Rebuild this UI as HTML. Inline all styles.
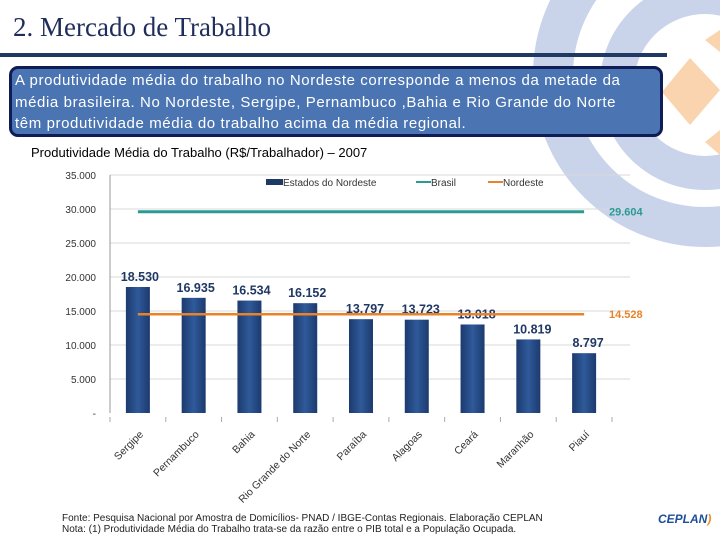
<!DOCTYPE html>
<html><head><meta charset="utf-8">
<style>
body{margin:0;width:720px;height:540px;overflow:hidden;background:#fff;position:relative;font-family:"Liberation Sans",sans-serif}
</style></head><body>
<svg width="720" height="540" style="position:absolute;left:0;top:0">
  <circle cx="705" cy="75" r="152" fill="none" stroke="#c9d3ea" stroke-width="40"/>
  <circle cx="705" cy="85" r="88" fill="none" stroke="#c9d3ea" stroke-width="34"/>
  <path d="M690,58 L720,90 L690,125 L662,92 Z" fill="#f9d4ae"/>
  <path d="M720,30 L705,40 L720,52 Z" fill="#f9d4ae"/>
  <path d="M720,130 L705,142 L720,155 Z" fill="#f9d4ae"/>
</svg>
<div style="position:absolute;left:13px;top:12px;font-family:'Liberation Serif',serif;font-size:27px;color:#1f2d5a">2. Mercado de Trabalho</div>
<div style="position:absolute;left:0;top:53px;width:667px;height:4px;background:#1f3864"></div>
<div style="position:absolute;left:9px;top:66px;width:645px;height:64px;background:#4b74b3;border:3px solid #0f1c55;border-radius:9px;color:#fff;font-size:15px;line-height:21.5px;padding:1px 0 0 3px;box-sizing:content-box;white-space:nowrap;letter-spacing:0.6px">A produtividade média do trabalho no Nordeste corresponde a menos da metade da<br>média brasileira. No Nordeste, Sergipe, Pernambuco ,Bahia e Rio Grande do Norte<br>têm produtividade média do trabalho acima da média regional.</div>
<div style="position:absolute;left:31px;top:145px;font-size:13px;color:#000">Produtividade Média do Trabalho (R$/Trabalhador) – 2007</div>
<svg id="chart" width="720" height="540" style="position:absolute;left:0;top:0"></svg>
<div style="position:absolute;left:62px;top:513px;font-size:10px;line-height:11px;color:#222">Fonte: Pesquisa Nacional por Amostra de Domicílios- PNAD / IBGE-Contas Regionais. Elaboração CEPLAN<br>Nota: (1) Produtividade Média do Trabalho trata-se da razão entre o PIB total e a População Ocupada.</div>
<div style="position:absolute;left:658px;top:512px;font-size:12px;font-weight:bold;font-style:italic;color:#1f4e99">CEPLAN<span style="color:#f08a24">)</span></div>
<script>
const categories=["Sergipe","Pernambuco","Bahia","Rio Grande do Norte","Paraíba","Alagoas","Ceará","Maranhão","Piauí"];
const values=[18530,16935,16534,16152,13797,13723,13018,10819,8797];
const valueLabels=["18.530","16.935","16.534","16.152","13.797","13.723","13.018","10.819","8.797"];
const brasil=29604;
const nordeste=14528;
const yTicks=[0,5000,10000,15000,20000,25000,30000,35000];
const yTickLabels=["-","5.000","10.000","15.000","20.000","25.000","30.000","35.000"];
const svg=document.getElementById('chart');
const NS='http://www.w3.org/2000/svg';
const x0=110,x1=612,yb=413,yt=175,ymax=35000;
const band=(x1-x0)/categories.length;
const y=v=>yb-(v/ymax)*(yb-yt);
const cx=i=>x0+band*(i+0.5);
function mk(t,a){const e=document.createElementNS(NS,t);for(const k in a)e.setAttribute(k,a[k]);svg.appendChild(e);return e;}
yTicks.forEach((t,i)=>{
  if(t>0){const g=mk('line',{x1:x0,x2:630,y1:y(t),y2:y(t),stroke:'#d9d9d9','stroke-width':1});
  
  }
  const l=mk('text',{x:96,y:y(t)+4,'text-anchor':'end','font-size':10,fill:'#333'});
  l.textContent=yTickLabels[i];
  
  
});
const ax=mk('line',{x1:x0,x2:x0,y1:yt,y2:yb,stroke:'#999'});


for(let i=0;i<=categories.length;i++){
  const t=mk('line',{x1:x0+band*i,x2:x0+band*i,y1:yb+4,y2:yb+9,stroke:'#aaa'});
  
  
}
const defs=mk('defs',{});
defs.innerHTML='<linearGradient id="bg" x1="0" x2="1"><stop offset="0" stop-color="#1c3a6e"/><stop offset="0.5" stop-color="#2f5a9a"/><stop offset="1" stop-color="#1c3a6e"/></linearGradient>';
values.forEach((v,i)=>{
  const b=mk('rect',{x:cx(i)-12,y:y(v),width:24,height:yb-y(v),fill:'url(#bg)'});
  
  
  const l=mk('text',{x:cx(i)+(i>=4?4:2),y:y(v)-6,'text-anchor':'middle','font-size':12.5,'font-weight':'bold',fill:'#1f3864'});
  l.textContent=valueLabels[i];
  
  
  const c=mk('text',{x:cx(i)+6,y:yb+22,'text-anchor':'end','font-size':10.5,fill:'#333',transform:`rotate(-45 ${cx(i)+6} ${yb+22})`});
  c.textContent=categories[i];
  
  
});
const lb=mk('line',{x1:cx(0),x2:cx(8),y1:y(brasil),y2:y(brasil),stroke:'#2a9b93','stroke-width':3});


const tb=mk('text',{x:609,y:y(brasil)+4,'font-size':11,'font-weight':'bold',fill:'#2a9b93'});
tb.textContent='29.604';


const ln=mk('line',{x1:cx(0),x2:cx(8),y1:y(nordeste),y2:y(nordeste),stroke:'#e8832a','stroke-width':2.5});


const tn=mk('text',{x:609,y:y(nordeste)+4,'font-size':11,'font-weight':'bold',fill:'#e8832a'});
tn.textContent='14.528';


const leg=[["rect","#1f3864","Estados  do Nordeste",266],["line","#2a9b93","Brasil",414],["line","#e8832a","Nordeste",486]];
leg.forEach(e=>{
  let s;
  if(e[0]==='rect')s=mk('rect',{x:e[3],y:179,width:17,height:6,fill:e[1]});
  else s=mk('line',{x1:e[3]+2,x2:e[3]+17,y1:182,y2:182,stroke:e[1],'stroke-width':2});
  
  
  const t=mk('text',{x:e[3]+17,y:186,'font-size':10,fill:'#333'});
  t.textContent=e[2];
  
  
});
</script>
</body></html>
